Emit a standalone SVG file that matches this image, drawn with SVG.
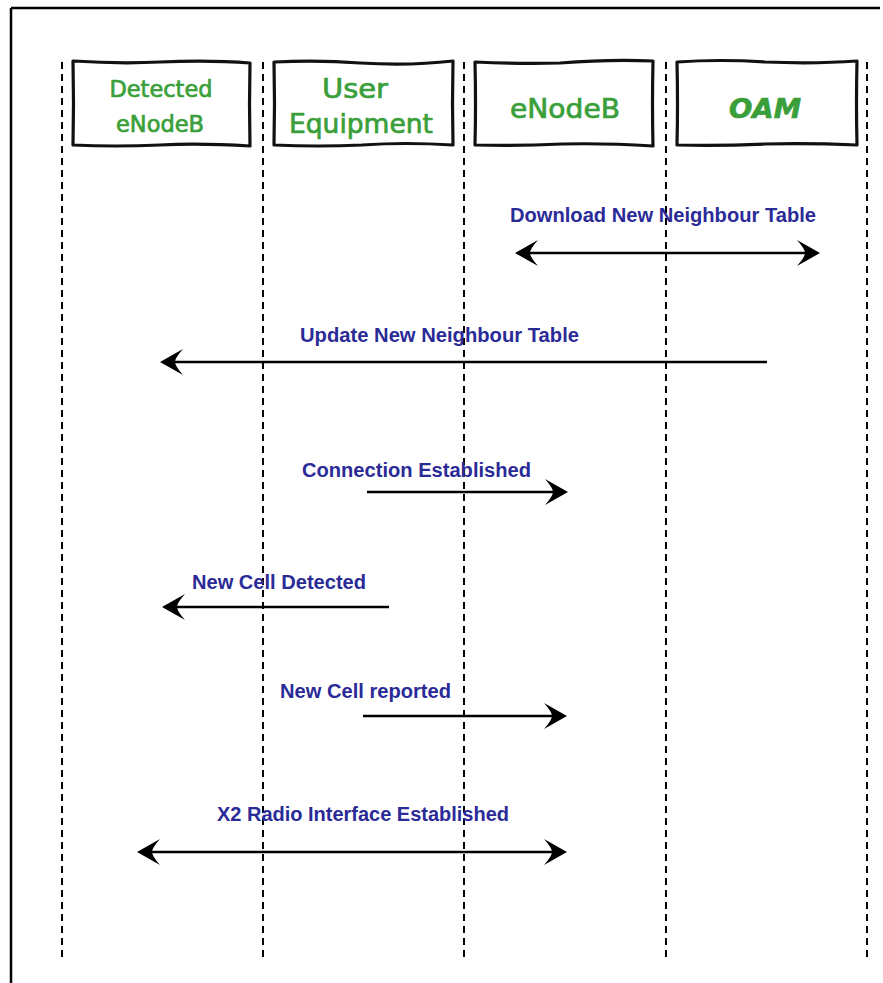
<svg xmlns="http://www.w3.org/2000/svg" width="883" height="983" viewBox="0 0 883 983">
  <style>
    .frame { stroke: #000; stroke-width: 2.5; fill: none; }
    .life { stroke: #000; stroke-width: 2; stroke-dasharray: 7 5; fill: none; }
    .box { stroke: #111; stroke-width: 3.2; fill: #fff; stroke-linejoin: round; }
    .actor { font-family: "DejaVu Sans", "Liberation Sans", sans-serif; fill: #3a9f3a; stroke: #3a9f3a; stroke-width: 0.7; text-anchor: middle; }
    .msg { font-family: "Liberation Sans", Arial, sans-serif; font-weight: bold; font-size: 20px; fill: #2b2b98; }
    .arrow { stroke: #000; stroke-width: 2.5; fill: none; }
  </style>
  <defs>
    <marker id="head" viewBox="-25 -14 30 28" refX="-5" refY="0" markerWidth="30" markerHeight="28" markerUnits="userSpaceOnUse" orient="auto-start-reverse">
      <path d="M0,0 L-23,-13 Q-15,-4 -15,0 Q-15,4 -23,13 Z" fill="#000"/>
    </marker>
  </defs>

  <rect width="883" height="983" fill="#fff"/>

  <!-- outer frame: top and left edges -->
  <path class="frame" d="M11,8 L880,8 M11,8 L11,983"/>

  <!-- lifelines -->
  <g id="lifelines">
    <line class="life" x1="62" y1="62" x2="62" y2="957"/>
    <line class="life" x1="263" y1="62" x2="263" y2="957"/>
    <line class="life" x1="464" y1="62" x2="464" y2="957"/>
    <line class="life" x1="666" y1="62" x2="666" y2="957"/>
    <line class="life" x1="867" y1="62" x2="867" y2="957"/>
  </g>

  <!-- participants -->
  <g id="detected-enodeb">
    <path class="box" d="M73,61 Q120,64 160,62 Q210,60 250,63 Q249,104 250,146 Q200,143 160,145 Q115,147 73,145 Q74,104 73,61 Z"/>
    <text class="actor" x="161" y="97" font-size="23" textLength="103" lengthAdjust="spacingAndGlyphs">Detected</text>
    <text class="actor" x="160" y="132" font-size="23" textLength="88" lengthAdjust="spacingAndGlyphs">eNodeB</text>
  </g>
  <g id="user-equipment">
    <path class="box" d="M274,62 Q320,60 360,63 Q410,66 453,61 Q452,104 453,145 Q405,142 362,145 Q318,147 274,145 Q275,104 274,62 Z"/>
    <text class="actor" x="355" y="98" font-size="26" textLength="66" lengthAdjust="spacingAndGlyphs">User</text>
    <text class="actor" x="361" y="133" font-size="26" textLength="144" lengthAdjust="spacingAndGlyphs">Equipment</text>
  </g>
  <g id="enodeb">
    <path class="box" d="M475,62 Q520,64 560,63 Q610,59 653,61 Q652,104 653,146 Q605,143 562,144 Q518,146 475,145 Q476,104 475,62 Z"/>
    <text class="actor" x="565" y="118" font-size="26" textLength="110" lengthAdjust="spacingAndGlyphs">eNodeB</text>
  </g>
  <g id="oam">
    <path class="box" d="M677,62 Q720,59 765,62 Q815,64 857,61 Q856,104 857,145 Q810,143 765,144 Q720,146 677,145 Q678,104 677,62 Z"/>
    <text class="actor" x="765" y="118" font-size="26" font-style="italic" font-weight="bold" textLength="72" lengthAdjust="spacingAndGlyphs">OAM</text>
  </g>

  <!-- messages -->
  <g id="connectors">
    <g id="msg-download">
      <text class="msg" x="510" y="222" textLength="306" lengthAdjust="spacingAndGlyphs">Download New Neighbour Table</text>
      <line class="arrow" x1="520" y1="253" x2="815" y2="253" marker-start="url(#head)" marker-end="url(#head)"/>
    </g>
    <g id="msg-update">
      <text class="msg" x="300" y="342" textLength="279" lengthAdjust="spacingAndGlyphs">Update New Neighbour Table</text>
      <line class="arrow" x1="767" y1="362" x2="165" y2="362" marker-end="url(#head)"/>
    </g>
    <g id="msg-connection">
      <text class="msg" x="302" y="477" textLength="229" lengthAdjust="spacingAndGlyphs">Connection Established</text>
      <line class="arrow" x1="367" y1="492" x2="563" y2="492" marker-end="url(#head)"/>
    </g>
    <g id="msg-detected">
      <text class="msg" x="192" y="589" textLength="174" lengthAdjust="spacingAndGlyphs">New Cell Detected</text>
      <line class="arrow" x1="389" y1="607" x2="167" y2="607" marker-end="url(#head)"/>
    </g>
    <g id="msg-reported">
      <text class="msg" x="280" y="698" textLength="171" lengthAdjust="spacingAndGlyphs">New Cell reported</text>
      <line class="arrow" x1="363" y1="716" x2="562" y2="716" marker-end="url(#head)"/>
    </g>
    <g id="msg-x2">
      <text class="msg" x="217" y="821" textLength="292" lengthAdjust="spacingAndGlyphs">X2 Radio Interface Established</text>
      <line class="arrow" x1="142" y1="852" x2="562" y2="852" marker-start="url(#head)" marker-end="url(#head)"/>
    </g>
  </g>
</svg>
